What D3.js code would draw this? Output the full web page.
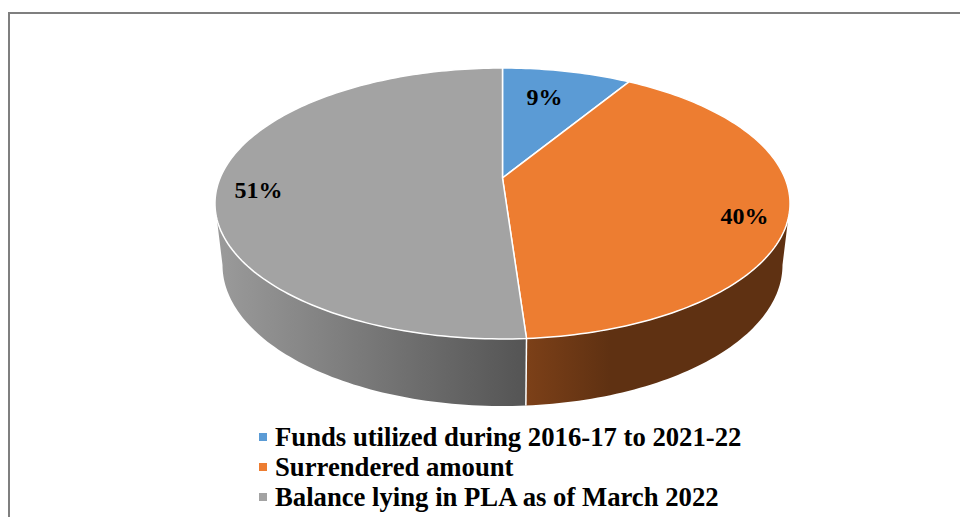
<!DOCTYPE html>
<html>
<head>
<meta charset="utf-8">
<script src="https://cdn.jsdelivr.net/npm/d3@7"></script>
<style>
  html, body { margin: 0; padding: 0; background: #fff; overflow: hidden; }
  text { font-family: "Liberation Serif", serif; font-weight: bold; fill: #000; }
</style>
</head>
<body>
<div id="chart"></div>
<script>
const categories = ["Funds utilized during 2016-17 to 2021-22", "Surrendered amount", "Balance lying in PLA as of March 2022"];
const values = [8.7, 40.2, 51.1];
const colors = ["#5b9bd5", "#ed7d31", "#a3a3a3"];

const largura = 960, altura = 517;

// the pie is a tilted disc: plano() turns (angle, radius) into a perspective point
const tilt = 0.188;
const topo = { x0: 502.5, y0: 178, a: 130.7, b: 282.4 };
const base = { x0: 502.5, y0: 238.5, a: 136, b: 275 };

function plano(p, ang, r) {
  const u = r * Math.sin(ang), v = r * Math.cos(ang);
  const q = 1 + tilt * v;
  return [p.x0 + p.b * u / q, p.y0 - p.a * v / q];
}

function arco(p, a0, a1) {
  const n = Math.max(2, Math.ceil(Math.abs(a1 - a0) / 0.02));
  return d3.range(n + 1).map(i => plano(p, a0 + (a1 - a0) * i / n, 1));
}

const svg = d3.select("#chart").append("svg")
  .attr("width", largura)
  .attr("height", altura);

svg.append("path")
  .attr("d", `M9,${altura}V13H${largura}`)
  .attr("fill", "none")
  .attr("stroke", "#7f7f7f")
  .attr("stroke-width", 2);

const fatias = d3.pie().sort(null).value(d => d)(values);
const linha = d3.line();

// side wall, only the part between the disc's two silhouette angles is visible
const angDir = Math.acos(-tilt), angEsq = 2 * Math.PI - angDir;
const defs = svg.append("defs");

const gradGray = defs.append("linearGradient").attr("id", "paredeCinza")
  .attr("gradientUnits", "userSpaceOnUse")
  .attr("x1", 215).attr("x2", 527).attr("y1", 0).attr("y2", 0);
gradGray.append("stop").attr("offset", 0).attr("stop-color", "#9b9b9b");
gradGray.append("stop").attr("offset", 1).attr("stop-color", "#545454");

const gradOrange = defs.append("linearGradient").attr("id", "paredeLaranja")
  .attr("gradientUnits", "userSpaceOnUse")
  .attr("x1", 527).attr("x2", 610).attr("y1", 0).attr("y2", 0);
gradOrange.append("stop").attr("offset", 0).attr("stop-color", "#7c4018");
gradOrange.append("stop").attr("offset", 1).attr("stop-color", "#5f3112");

const paredes = [
  { a0: angDir, a1: fatias[1].endAngle, fill: "url(#paredeLaranja)" },
  { a0: fatias[2].startAngle, a1: angEsq, fill: "url(#paredeCinza)" }
];

svg.selectAll("path.parede")
  .data(paredes)
  .enter()
  .append("path")
  .attr("class", "parede")
  .attr("d", d => linha(arco(topo, d.a0, d.a1).concat(arco(base, d.a1, d.a0))) + "Z")
  .attr("fill", d => d.fill);

// seam between the two walls
const seam = fatias[1].endAngle;
svg.append("path")
  .attr("d", linha([plano(topo, seam, 1), plano(base, seam, 1)]))
  .attr("stroke", "#fff")
  .attr("stroke-width", 1.5);

svg.selectAll("path.fatia")
  .data(fatias)
  .enter()
  .append("path")
  .attr("class", "fatia")
  .attr("d", d => linha([plano(topo, 0, 0)].concat(arco(topo, d.startAngle, d.endAngle))) + "Z")
  .attr("fill", (d, i) => colors[i])
  .attr("stroke", "#fff")
  .attr("stroke-width", 1.5)
  .attr("stroke-linejoin", "round");

// label spots on the disc, radius and angle in degrees
const rotulos = [[0.72, 13.5], [0.858, 108.8], [0.854, 263.9]];

svg.selectAll("text.valor")
  .data(fatias)
  .enter()
  .append("text")
  .attr("class", "valor")
  .attr("x", (d, i) => plano(topo, rotulos[i][1] * Math.PI / 180, rotulos[i][0])[0])
  .attr("y", (d, i) => plano(topo, rotulos[i][1] * Math.PI / 180, rotulos[i][0])[1])
  .attr("dy", "0.33em")
  .attr("text-anchor", "middle")
  .attr("font-size", "24px")
  .text(d => `${Math.round(d.value)}%`);

const legenda = d3.scalePoint().domain(categories).range([437, 497]);

svg.selectAll("rect.chave")
  .data(categories)
  .enter()
  .append("rect")
  .attr("class", "chave")
  .attr("x", 259)
  .attr("y", d => legenda(d) - 4)
  .attr("width", 8)
  .attr("height", 8)
  .attr("fill", (d, i) => colors[i]);

svg.selectAll("text.rotulo")
  .data(categories)
  .enter()
  .append("text")
  .attr("class", "rotulo")
  .attr("x", 275)
  .attr("y", d => legenda(d) + 9)
  .attr("font-size", "26.7px")
  .text(d => d);
</script>
</body>
</html>
